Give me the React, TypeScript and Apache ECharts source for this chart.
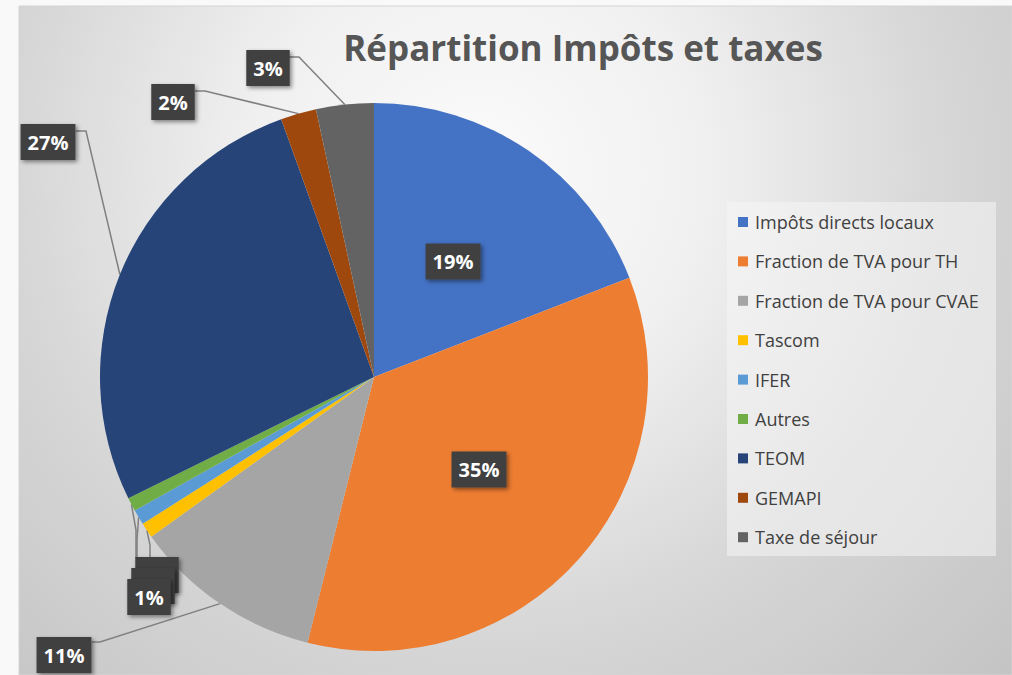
import React, { useEffect, useRef } from 'react';
import * as echarts from 'echarts';

const titleText = 'Répartition Impôts et taxes';
const categories = [
  'Impôts directs locaux',
  'Fraction de TVA pour TH',
  'Fraction de TVA pour CVAE',
  'Tascom',
  'IFER',
  'Autres',
  'TEOM',
  'GEMAPI',
  'Taxe de séjour',
];
const values = [19.1, 34.8, 11.2, 0.9, 0.9, 0.8, 26.8, 2.1, 3.4];
const colors = ['#4472C4', '#ED7D31', '#A5A5A5', '#FFC000', '#5B9BD5', '#70AD47', '#264478', '#9E480E', '#636363'];
const insideLabels = [0, 1];

// label box centres and leader-line bend/attach points for the outer labels
const labelPlacement: Record<number, { c: [number, number]; line: [number, number][] }> = {
  2: { c: [64, 655], line: [[100, 642], [92, 642]] },
  3: { c: [157, 575], line: [[150, 545], [150, 558]] },
  4: { c: [153, 586], line: [[137, 540], [137, 558]] },
  5: { c: [149, 597], line: [[136, 530], [136, 558]] },
  6: { c: [48, 142], line: [[86, 131], [76, 131]] },
  7: { c: [173, 102], line: [[205, 91], [195, 91]] },
  8: { c: [268, 68], line: [[299, 57], [289, 57]] },
};

export default function App() {
  const ref = useRef<HTMLDivElement>(null);
  useEffect(() => {
    if (!ref.current) return;
    const chart = echarts.init(ref.current, null, { renderer: 'svg' });
    const data = categories.map((name, i) => ({
      name,
      value: values[i],
      itemStyle: { color: colors[i] },
      label: insideLabels.includes(i) ? { position: 'inside' } : { position: 'outside' },
      labelLine: { show: !insideLabels.includes(i) },
    }));
    chart.setOption({
      animation: false,
      backgroundColor: 'transparent',
      graphic: {
        elements: [
          { type: 'rect', z: -10, shape: { x: 0, y: 0, width: 1012, height: 675 }, style: { fill: '#f9f9f9' } },
          {
            type: 'rect',
            z: -9,
            shape: { x: 19, y: 6, width: 993, height: 669 },
            style: {
              fill: new echarts.graphic.RadialGradient(480, 170, 760, [
                { offset: 0, color: '#fbfbfb' },
                { offset: 0.3, color: '#f0f0f0' },
                { offset: 0.62, color: '#d6d6d6' },
                { offset: 1, color: '#c2c2c2' },
              ], true),
              stroke: '#d4d4d4',
              lineWidth: 1,
            },
          },
          {
            type: 'rect',
            z: -8,
            shape: { x: 727, y: 202, width: 269, height: 354 },
            style: { fill: 'rgba(245,245,245,0.55)' },
          },
          {
            type: 'text',
            z: 5,
            x: 583,
            y: 47,
            style: {
              text: titleText,
              fontFamily: 'Open Sans',
              fontWeight: 'bold',
              fontSize: 35,
              fill: '#565656',
              textAlign: 'center',
              textVerticalAlign: 'middle',
            },
          },
        ],
      },
      legend: {
        orient: 'vertical',
        left: 738,
        top: 212,
        padding: 0,
        itemGap: 19.4,
        itemWidth: 10,
        itemHeight: 10,
        icon: 'rect',
        data: categories,
        textStyle: { fontFamily: 'Open Sans', fontSize: 18, lineHeight: 20, color: '#404040', padding: [0, 0, 0, 2] },
      },
      series: [
        {
          type: 'pie',
          center: [374, 377],
          radius: 274,
          startAngle: 90,
          clockwise: true,
          percentPrecision: 0,
          avoidLabelOverlap: false,
          data,
          label: {
            formatter: '{d}%',
            fontFamily: 'Open Sans',
            fontWeight: 'bold',
            fontSize: 20,
            lineHeight: 20,
            color: '#ffffff',
            backgroundColor: '#404040',
            padding: [8, 7],
            shadowColor: 'rgba(0,0,0,0.45)',
            shadowBlur: 4,
            shadowOffsetX: 2,
            shadowOffsetY: 2,
          },
          labelLine: { lineStyle: { color: '#808080', width: 1.5 } },
          labelLayout: (p: any) => {
            const pl = labelPlacement[p.dataIndex];
            if (!pl) return {};
            const w = p.labelRect.width;
            const h = p.labelRect.height;
            let x = pl.c[0];
            let y = pl.c[1];
            if (p.align === 'right') x += w / 2;
            else if (p.align === 'left') x -= w / 2;
            if (p.verticalAlign === 'top') y -= h / 2;
            else if (p.verticalAlign === 'bottom') y += h / 2;
            const start = p.labelLinePoints ? p.labelLinePoints[0] : null;
            return start ? { x, y, labelLinePoints: [start, ...pl.line] } : { x, y };
          },
        },
      ],
    });
    return () => chart.dispose();
  }, []);
  return <div ref={ref} style={{ position: 'absolute', left: 0, top: 0, width: 1012, height: 675 }} />;
}
